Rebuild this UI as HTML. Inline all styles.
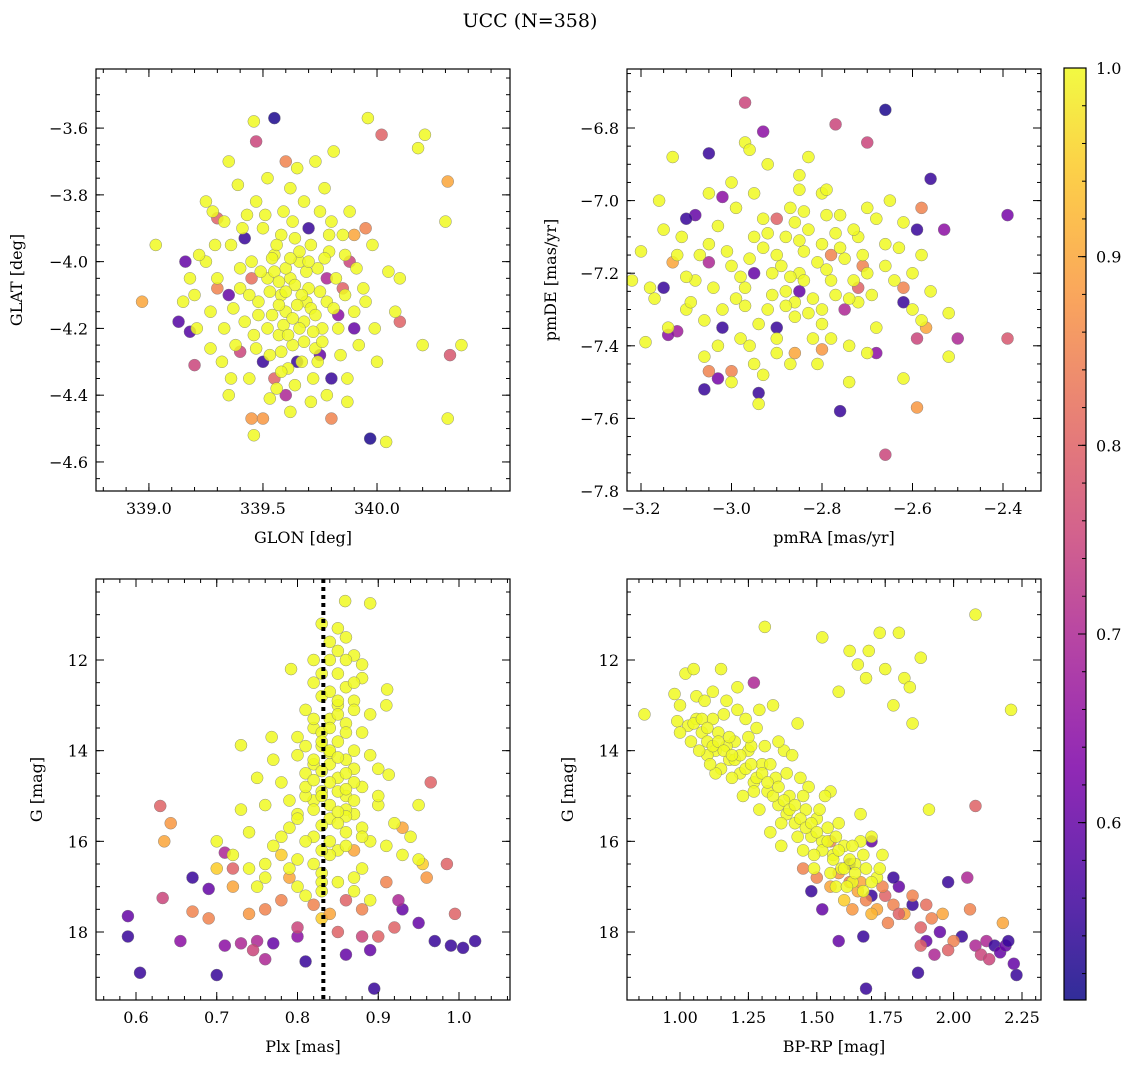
<!DOCTYPE html>
<html><head><meta charset="utf-8"><style>
body{margin:0;background:#fff;}
svg{display:block;font-family:"DejaVu Serif","Liberation Serif",serif;}
</style></head><body>
<svg id="fig" width="1136" height="1068" viewBox="0 0 1136 1068" xmlns="http://www.w3.org/2000/svg">
<text x="530" y="27" font-size="19" text-anchor="middle">UCC (N=358)</text>
</svg>
<script>
// ---- Panel 1: GLON / GLAT ----
const glonYellow=[339.62,339.58,339.66,339.70,339.55,339.60,339.68,339.52,339.74,339.64,339.48,339.78,339.57,339.71,339.45,339.82,339.63,339.50,339.76,339.40,339.86,339.59,339.67,339.53,339.80,339.42,339.36,339.90,339.72,339.47,339.62,339.30,339.94,339.56,339.84,339.33,339.25,339.98,339.38,339.65,339.75,339.27,339.88,339.44,339.92,339.20,339.22,340.05,339.28,339.52,339.78,339.35,339.18,340.08,339.62,339.58,339.69,339.54,339.73,339.46,339.61,339.79,339.41,339.87,339.32,339.99,339.15,339.25,339.73,339.46,339.96,339.46,340.21,340.18,339.81,339.03,339.27,339.36,340.04,340.31,340.37,340.30,340.20,340.10];
const glatYellow=[-4.05,-4.10,-4.00,-4.08,-3.98,-4.15,-4.18,-4.05,-4.02,-3.93,-4.12,-4.12,-4.22,-3.95,-4.00,-4.05,-4.25,-3.90,-4.20,-4.08,-3.98,-3.85,-4.30,-4.28,-3.88,-4.18,-3.95,-4.15,-4.35,-3.82,-3.78,-4.05,-4.08,-4.38,-4.28,-3.88,-4.00,-3.95,-4.25,-3.72,-3.85,-4.15,-3.85,-4.35,-4.25,-4.10,-3.98,-4.03,-3.85,-3.75,-4.40,-4.40,-4.05,-4.15,-4.45,-3.92,-4.12,-4.16,-4.26,-4.22,-4.32,-3.97,-3.90,-4.35,-4.30,-4.20,-4.12,-3.82,-3.70,-4.52,-3.57,-3.58,-3.62,-3.66,-3.67,-3.95,-4.26,-4.35,-4.54,-4.47,-4.25,-3.88,-4.25,-4.05];
const glonCore=[339.60,339.64,339.57,339.67,339.71,339.53,339.59,339.63,339.69,339.75,339.49,339.56,339.66,339.72,339.61,339.52,339.77,339.81,339.44,339.58,339.68,339.74,339.51,339.63,339.83,339.40,339.47,339.86,339.79,339.55,339.65,339.60,339.70,339.57,339.73,339.66,339.54,339.62,339.48,339.76,339.68,339.37,339.91,339.58,339.64,339.43,339.85,339.33,339.95,339.29,339.53,339.71,339.39,339.87,339.21,340.00,339.35,339.77];
const glatCore=[-4.02,-4.07,-4.13,-4.10,-4.14,-4.09,-4.19,-4.17,-4.03,-4.09,-4.03,-3.95,-3.97,-4.21,-4.22,-4.20,-3.99,-4.14,-4.10,-4.27,-4.24,-4.30,-3.86,-3.88,-4.20,-4.02,-4.26,-4.10,-3.92,-4.03,-4.13,-4.09,-4.00,-4.06,-4.16,-4.20,-3.99,-3.99,-4.16,-4.24,-3.82,-4.14,-4.02,-4.33,-4.37,-3.86,-3.92,-4.20,-4.12,-3.95,-4.41,-4.42,-3.77,-4.42,-4.20,-4.30,-3.70,-3.78];
const glonMixed=[339.55,340.02,339.47,338.97,339.16,339.13,339.18,339.20,339.45,339.50,339.97,339.80,340.32,340.31,339.35,339.40,339.65,339.80,339.75,339.90,339.50,339.60,339.85,339.70,339.42,339.30,339.95,339.88,339.55,339.78,339.30,339.90,339.60,339.83,339.45,340.10];
const glatMixed=[-3.57,-3.62,-3.64,-4.12,-4.00,-4.18,-4.21,-4.31,-4.47,-4.47,-4.53,-4.47,-4.28,-3.76,-4.10,-4.27,-4.30,-4.35,-4.28,-4.20,-4.30,-4.40,-4.08,-3.90,-3.93,-4.08,-3.90,-4.00,-4.35,-4.05,-3.87,-3.92,-3.70,-4.16,-4.05,-4.18];
const probMixed1=[0.52,0.8,0.75,0.9,0.6,0.58,0.58,0.75,0.88,0.88,0.52,0.85,0.78,0.9,0.6,0.75,0.55,0.55,0.6,0.6,0.55,0.7,0.8,0.55,0.55,0.85,0.85,0.75,0.8,0.7,0.8,0.9,0.85,0.65,0.82,0.8];

// ---- Panel 2: pmRA / pmDE ----
const pmraYellow=[-2.95,-2.90,-2.85,-2.80,-2.88,-2.92,-2.78,-2.83,-3.00,-2.75,-2.97,-2.86,-2.70,-3.05,-2.82,-2.93,-2.72,-3.02,-2.87,-2.76,-3.08,-2.98,-2.66,-2.90,-2.80,-3.12,-2.68,-3.00,-2.85,-2.74,-3.10,-2.95,-2.62,-3.15,-2.80,-3.05,-2.64,-2.92,-3.18,-2.60,-3.13,-3.22,-3.19,-2.83,-2.79,-2.97,-2.96,-2.65,-2.68,-2.52,-2.52,-2.58,-3.09,-3.06,-2.94,-2.96,-2.74,-2.62,-3.20,-3.00,-2.88,-2.84,-2.86,-2.77,-3.03,-2.91,-2.99,-2.72,-2.70,-2.58,-2.56,-3.14,-3.16,-2.81];
const pmdeYellow=[-7.10,-7.15,-7.20,-7.12,-7.25,-7.30,-7.22,-7.08,-7.18,-7.16,-7.24,-7.32,-7.20,-7.12,-7.38,-7.05,-7.28,-7.30,-7.02,-7.04,-7.22,-7.38,-7.12,-7.42,-7.30,-7.15,-7.35,-6.95,-6.93,-7.40,-7.30,-7.45,-7.06,-7.08,-6.98,-6.98,-7.22,-6.90,-7.24,-7.30,-6.88,-7.22,-7.39,-6.88,-6.97,-6.84,-6.86,-7.00,-7.05,-7.43,-7.31,-7.33,-7.28,-7.43,-7.56,-7.40,-7.50,-7.49,-7.14,-7.50,-7.10,-7.14,-7.28,-7.26,-7.07,-7.20,-7.27,-7.10,-7.02,-7.15,-7.25,-7.35,-7.00,-7.45];
const pmraCore=[-2.89,-2.84,-2.81,-2.93,-2.87,-2.79,-2.96,-2.82,-2.91,-2.76,-2.85,-2.98,-2.73,-2.88,-2.94,-2.80,-3.01,-2.77,-2.86,-2.92,-2.71,-2.83,-2.97,-2.74,-3.04,-2.90,-2.78,-3.07,-2.69,-2.84,-2.99,-2.73,-3.10,-2.66,-2.95,-3.06,-2.87,-2.79,-3.11,-2.63,-2.93,-2.70,-3.17,-2.60,-3.03,-2.85];
const pmdeCore=[-7.18,-7.22,-7.17,-7.13,-7.21,-7.19,-7.16,-7.27,-7.26,-7.13,-7.11,-7.21,-7.22,-7.29,-7.34,-7.34,-7.14,-7.09,-7.06,-7.09,-7.15,-7.31,-7.29,-7.27,-7.24,-7.38,-7.38,-7.15,-7.26,-7.03,-7.02,-7.08,-7.21,-7.18,-6.98,-7.33,-7.45,-7.04,-7.10,-7.13,-7.48,-7.42,-7.27,-7.20,-7.40,-6.97];
const pmraMixed=[-2.97,-2.66,-3.05,-2.93,-2.77,-2.70,-2.56,-2.39,-2.39,-3.15,-3.12,-3.14,-3.06,-3.03,-2.94,-2.76,-2.66,-2.59,-2.59,-2.59,-2.57,-2.62,-2.68,-2.80,-2.86,-2.90,-3.02,-3.05,-3.08,-3.10,-3.05,-3.00,-2.58,-2.62,-2.53,-2.50,-2.72,-2.85,-2.78,-2.90,-3.13,-2.75,-2.95,-3.02,-2.71];
const pmdeMixed=[-6.73,-6.75,-6.87,-6.81,-6.79,-6.84,-6.94,-7.04,-7.38,-7.24,-7.36,-7.37,-7.52,-7.49,-7.53,-7.58,-7.70,-7.57,-7.08,-7.38,-7.35,-7.28,-7.42,-7.41,-7.42,-7.35,-7.35,-7.17,-7.04,-7.05,-7.47,-7.47,-7.02,-7.24,-7.08,-7.38,-7.24,-7.25,-7.15,-7.05,-7.17,-7.30,-7.20,-6.99,-7.18];
const probMixed2=[0.75,0.52,0.55,0.65,0.75,0.75,0.55,0.62,0.78,0.55,0.68,0.65,0.55,0.62,0.55,0.55,0.75,0.88,0.55,0.75,0.9,0.55,0.65,0.88,0.9,0.55,0.55,0.7,0.6,0.55,0.85,0.85,0.85,0.85,0.65,0.7,0.8,0.6,0.85,0.8,0.9,0.7,0.6,0.65,0.85];

// ---- Panel 3: Plx / G ----
const plxYellow=[0.859,0.89,0.83,0.86,0.85,0.87,0.84,0.88,0.792,0.85,0.82,0.86,0.911,0.83,0.87,0.85,0.81,0.89,0.84,0.86,0.82,0.768,0.73,0.88,0.85,0.83,0.87,0.80,0.86,0.84,0.90,0.913,0.81,0.85,0.78,0.88,0.83,0.86,0.82,0.76,0.90,0.80,0.87,0.84,0.92,0.79,0.86,0.74,0.82,0.89,0.77,0.85,0.93,0.80,0.72,0.88,0.83,0.76,0.95,0.70,0.84,0.85,0.83,0.87,0.81,0.86,0.84,0.79,0.88,0.82,0.75,0.91,0.83,0.87,0.81,0.75,0.95,0.73];
const gPlxYellow=[10.7,10.75,11.2,11.5,11.8,11.9,12.0,12.1,12.2,12.3,12.5,12.6,12.65,12.8,12.9,13.0,13.1,13.2,13.3,13.4,13.5,13.7,13.88,13.6,13.8,13.9,14.0,14.1,14.2,14.3,14.4,14.53,14.5,14.6,14.7,14.8,14.9,15.0,15.1,15.2,15.2,15.4,15.4,15.5,15.6,15.7,15.8,15.8,15.9,16.0,16.1,16.2,16.3,16.4,16.3,16.6,16.7,16.8,16.4,16.0,14.05,12.9,13.6,14.7,15.0,15.3,16.0,15.1,15.7,14.3,14.6,13.0,16.9,17.1,17.2,17.0,15.2,15.3];
const plxCore=[0.83,0.84,0.85,0.82,0.86,0.83,0.84,0.85,0.82,0.87,0.83,0.86,0.84,0.81,0.85,0.83,0.87,0.84,0.82,0.86,0.80,0.85,0.83,0.88,0.81,0.86,0.84,0.82,0.79,0.87,0.85,0.80,0.83,0.89,0.78,0.77,0.89,0.90,0.80,0.87,0.88,0.84,0.85,0.86,0.82,0.84,0.86,0.82,0.85,0.83,0.76,0.91,0.74,0.94,0.81,0.87];
const gPlxCore=[12.3,12.7,13.2,13.3,13.6,13.8,14.0,14.15,14.2,14.4,14.45,14.5,14.7,14.8,14.9,15.0,15.1,15.2,15.3,15.45,15.5,15.6,15.65,15.9,16.0,16.1,16.3,16.5,16.6,16.8,16.9,17.0,17.1,17.3,15.9,14.2,14.1,15.0,13.7,13.1,12.4,11.6,11.3,12.0,12.0,13.5,14.85,14.65,15.35,16.2,16.5,16.1,16.6,15.9,13.9,12.5];
const plxMixed=[0.59,0.59,0.605,0.70,0.895,0.63,0.643,0.635,0.633,0.655,0.67,0.67,0.69,0.71,0.73,0.75,0.76,0.77,0.80,0.81,0.83,0.85,0.86,0.88,0.89,0.90,0.92,0.93,0.95,0.97,0.99,1.005,1.02,0.995,0.985,0.965,0.96,0.955,0.93,0.71,0.72,0.74,0.78,0.79,0.82,0.84,0.86,0.88,0.80,0.76,0.745,0.72,0.70,0.69,0.925,0.91,0.87,0.78];
const gPlxMixed=[17.65,18.1,18.9,18.95,19.25,15.22,15.6,16.0,17.25,18.2,17.55,16.8,17.05,18.3,18.25,18.2,18.6,18.25,18.1,18.65,17.7,18.0,18.5,18.1,18.4,18.1,17.9,17.5,17.8,18.2,18.3,18.35,18.2,17.6,16.5,14.7,16.8,16.5,15.7,16.25,16.6,17.6,17.3,16.8,17.4,17.6,17.3,17.5,17.9,17.5,18.4,17.0,16.6,17.7,17.3,16.9,16.2,16.3];
const probMixed3=[0.6,0.55,0.55,0.55,0.55,0.8,0.88,0.9,0.75,0.65,0.85,0.55,0.6,0.65,0.7,0.7,0.7,0.6,0.65,0.55,0.95,0.8,0.6,0.75,0.6,0.8,0.8,0.6,0.6,0.55,0.55,0.55,0.55,0.8,0.8,0.8,0.88,0.95,0.9,0.7,0.8,0.88,0.85,0.9,0.85,0.9,0.8,0.85,0.75,0.85,0.75,0.9,0.95,0.85,0.7,0.85,0.9,0.95];
const plxLine=0.832;

// ---- Panel 4: BP-RP / G ----
const bprpYellow=[0.87,0.98,1.00,1.02,1.05,0.99,1.03,1.06,1.08,1.10,1.12,1.13,1.15,1.16,1.18,1.20,1.22,1.24,1.25,1.27,1.28,1.30,1.31,1.32,1.34,1.35,1.36,1.38,1.40,1.42,1.44,1.46,1.48,1.50,1.52,1.52,1.54,1.56,1.58,1.60,1.62,1.64,1.65,1.68,1.70,1.72,1.73,1.75,1.78,1.80,1.82,1.85,1.91,2.08,2.21,1.10,1.14,1.19,1.23,1.29,1.33,1.37,1.41,1.45,1.49,1.55,1.57,1.63,1.66,1.06,1.12,1.17,1.21,1.26,1.39,1.47,1.53,1.59,1.67,1.74,1.69,1.58,1.88,1.84,1.07,1.15,1.36,1.43];
const gColYellow=[13.2,12.75,13.0,12.3,12.2,13.35,13.45,13.3,13.6,13.8,12.7,14.0,12.2,13.2,14.2,13.8,14.5,13.3,14.0,14.7,13.5,14.3,11.27,14.9,13.0,14.6,15.2,14.0,15.0,15.6,14.6,15.3,15.9,15.5,11.5,16.0,15.7,16.3,15.6,16.1,11.8,16.5,12.1,12.4,15.9,16.8,11.4,12.2,13.0,11.4,12.4,13.4,15.3,11.0,13.1,14.1,13.6,14.6,15.0,15.3,15.8,16.1,14.1,16.2,16.6,14.9,17.0,16.9,15.4,12.8,13.3,13.9,13.1,13.9,15.4,14.8,15.0,16.6,16.3,16.3,11.8,12.7,11.95,12.6,14.0,14.4,13.8,13.4];
const bprpCore=[1.05,1.08,1.10,1.12,1.14,1.16,1.18,1.20,1.22,1.24,1.26,1.28,1.30,1.32,1.34,1.36,1.38,1.40,1.42,1.44,1.46,1.48,1.50,1.52,1.54,1.56,1.58,1.60,1.62,1.64,1.66,1.68,1.70,1.13,1.19,1.27,1.33,1.39,1.45,1.51,1.57,1.63,1.09,1.04,1.17,1.25,1.31,1.37,1.43,1.49,1.55,1.61,1.67,1.73,1.21,1.29,1.00,1.11];
const gColCore=[13.4,13.3,13.5,13.9,13.8,14.0,13.7,14.2,14.1,14.4,14.3,14.6,14.5,14.7,15.0,14.8,15.1,15.3,15.2,15.5,15.7,15.6,15.8,16.2,16.0,16.4,16.2,16.6,16.4,16.7,16.0,16.6,16.9,14.5,14.1,14.9,14.3,14.5,15.0,15.3,15.9,16.1,12.9,13.8,12.9,13.7,13.9,15.6,15.9,16.3,16.7,17.0,17.1,16.6,12.6,13.1,13.6,14.3];
const bprpMixed=[1.27,1.58,1.68,1.87,1.67,2.08,1.70,1.80,1.85,1.90,1.95,1.98,2.03,2.05,2.08,2.10,2.12,2.15,2.17,2.19,2.20,2.22,2.23,2.18,2.13,2.00,1.96,1.92,1.88,1.85,1.82,1.78,1.75,1.72,1.68,1.65,1.62,1.60,1.55,1.52,1.48,1.50,1.45,1.88,1.93,1.98,2.06,1.62,1.70,1.78,1.55,1.58,1.66,1.74,1.80,1.90,1.70,1.63,1.76];
const gColMixed=[12.5,18.2,19.25,18.9,18.1,15.22,17.2,17.0,17.4,18.2,18.0,16.9,18.1,16.8,18.3,18.5,18.2,18.3,18.45,18.3,18.2,18.7,18.95,17.8,18.6,18.2,17.6,17.7,17.9,17.2,17.6,17.4,17.2,17.5,17.3,17.1,16.9,17.3,17.0,17.5,17.1,16.8,16.6,18.3,18.5,18.4,17.5,16.5,16.0,16.8,16.0,16.7,16.9,17.0,17.6,17.4,17.6,17.5,17.8];
const probMixed4=[0.7,0.6,0.55,0.55,0.55,0.8,0.55,0.6,0.55,0.6,0.6,0.55,0.55,0.7,0.7,0.75,0.7,0.55,0.6,0.6,0.55,0.6,0.55,0.9,0.75,0.85,0.9,0.85,0.8,0.85,0.9,0.85,0.8,0.9,0.85,0.9,0.85,0.95,0.9,0.6,0.55,0.85,0.85,0.8,0.7,0.8,0.85,0.55,0.6,0.55,0.85,0.88,0.9,0.85,0.8,0.82,0.92,0.88,0.85];

const cbMin=0.506, cbMax=1.0;
const cbTicks=[0.6,0.7,0.8,0.9,1.0];

const NS="http://www.w3.org/2000/svg";
const svg=document.getElementById('fig');
function el(tag,attrs,parent){const e=document.createElementNS(NS,tag);for(const k in attrs)e.setAttribute(k,attrs[k]);(parent||svg).appendChild(e);return e;}
const stops=[[0,[13,8,135]],[0.13,[75,3,161]],[0.25,[125,3,168]],[0.38,[168,34,150]],[0.5,[203,70,121]],[0.63,[229,107,93]],[0.75,[248,148,65]],[0.88,[253,195,40]],[1,[240,249,33]]];
function plasma(t){t=Math.max(0,Math.min(1,t));for(let i=1;i<stops.length;i++){if(t<=stops[i][0]){const a=stops[i-1],b=stops[i];const f=(t-a[0])/(b[0]-a[0]);const c=a[1].map((v,j)=>Math.round(v+(b[1][j]-v)*f));return `rgb(${c[0]},${c[1]},${c[2]})`;}}return 'rgb(240,249,33)';}
function colorOf(p){return plasma((p-cbMin)/(cbMax-cbMin));}
function fmt(v,d){const s=Math.abs(v).toFixed(d);return (v<0?'\u2212':'')+s;}

function panel(cfg){
  const {name,x0,x1,y0,y1,xmin,xmax,ymin,ymax,xMin,yMin,xd,yd,xlabel,ylabel,invertY}=cfg;
  const sx=v=>x0+(v-xmin)/(xmax-xmin)*(x1-x0);
  const sy=invertY?(v=>y0+(v-ymin)/(ymax-ymin)*(y1-y0)):(v=>y1-(v-ymin)/(ymax-ymin)*(y1-y0));
  const g=el('g',{});
  
  
  const clip=el('clipPath',{id:name+'-clip'},g);el('rect',{x:x0,y:y0,width:x1-x0,height:y1-y0},clip);
  const pts=el('g',{'clip-path':`url(#${name}-clip)`},g);
  
  
  cfg.series.forEach(s=>{
    for(let i=0;i<s.x.length;i++){
      const p=s.p?s.p[i]:1.0;
      const c=el('circle',{cx:sx(s.x[i]),cy:sy(s.y[i]),r:6,fill:colorOf(p),'fill-opacity':0.85,stroke:'#777','stroke-width':0.5,'stroke-opacity':0.8},pts);
      
      
    }
  });
  if(cfg.vline!==undefined){
    const l=el('line',{x1:sx(cfg.vline),x2:sx(cfg.vline),y1:y0,y2:y1,stroke:'#000','stroke-width':4,'stroke-dasharray':'4,4'},g);
    
    
  }
  el('rect',{x:x0,y:y0,width:x1-x0,height:y1-y0,fill:'none',stroke:'#000','stroke-width':1.2},g);
  const eps=1e-6;
  for(let v=Math.ceil(xmin/xMin-eps)*xMin;v<=xmax+eps;v+=xMin){const X=sx(v);el('line',{x1:X,x2:X,y1:y1,y2:y1-4,stroke:'#000'},g);el('line',{x1:X,x2:X,y1:y0,y2:y0+4,stroke:'#000'},g);}
  for(let v=Math.ceil(ymin/yMin-eps)*yMin;v<=ymax+eps;v+=yMin){const Y=sy(v);el('line',{x1:x0,x2:x0+4,y1:Y,y2:Y,stroke:'#000'},g);el('line',{x1:x1,x2:x1-4,y1:Y,y2:Y,stroke:'#000'},g);}
  cfg.xticks.forEach(v=>{const X=sx(v);el('line',{x1:X,x2:X,y1:y1,y2:y1-8,stroke:'#000'},g);el('line',{x1:X,x2:X,y1:y0,y2:y0+8,stroke:'#000'},g);
    const t=el('text',{x:X,y:y1+23,'font-size':16,'text-anchor':'middle'},g);t.textContent=fmt(v,xd);
    });
  cfg.yticks.forEach(v=>{const Y=sy(v);el('line',{x1:x0,x2:x0+8,y1:Y,y2:Y,stroke:'#000'},g);el('line',{x1:x1,x2:x1-8,y1:Y,y2:Y,stroke:'#000'},g);
    const t=el('text',{x:x0-8,y:Y+6,'font-size':16,'text-anchor':'end'},g);t.textContent=fmt(v,yd);
    });
  const xl=el('text',{x:(x0+x1)/2,y:y1+52,'font-size':16,'text-anchor':'middle'},g);xl.textContent=xlabel;
  
  const yx=cfg.ylx, yy=(y0+y1)/2;
  const yl=el('text',{x:yx,y:yy,'font-size':16,'text-anchor':'middle',transform:`rotate(-90 ${yx} ${yy})`},g);yl.textContent=ylabel;
  
}
function range(a,b,s){const r=[];for(let v=a;v<=b+1e-9;v+=s)r.push(Math.round(v*1000)/1000);return r;}

panel({name:'glon-glat',x0:96,x1:510,y0:69,y1:491,xmin:338.768,xmax:340.583,ymin:-4.687,ymax:-3.423,xMin:0.1,yMin:0.05,xd:1,yd:1,
  xticks:[339.0,339.5,340.0],yticks:range(-4.6,-3.6,0.2),xlabel:'GLON [deg]',ylabel:'GLAT [deg]',ylx:22,
  series:[{x:glonMixed,y:glatMixed,p:probMixed1},{x:glonYellow,y:glatYellow},{x:glonCore,y:glatCore}]});
panel({name:'pmra-pmde',x0:627,x1:1041,y0:69,y1:491,xmin:-3.2-14/452.5,xmax:-2.4+38/452.5,ymin:-7.8,ymax:-6.8+59/363,xMin:0.05,yMin:0.05,xd:1,yd:1,
  xticks:range(-3.2,-2.4,0.2),yticks:range(-7.8,-6.8,0.2),xlabel:'pmRA [mas/yr]',ylabel:'pmDE [mas/yr]',ylx:556,
  series:[{x:pmraMixed,y:pmdeMixed,p:probMixed2},{x:pmraYellow,y:pmdeYellow},{x:pmraCore,y:pmdeCore}]});
panel({name:'plx-g',x0:96,x1:510,y0:579,y1:1000,xmin:0.6-40/807.5,xmax:1.0+51/807.5,ymin:12-81/45.33,ymax:18+68/45.33,invertY:true,xMin:0.02,yMin:0.5,xd:1,yd:0,
  xticks:range(0.6,1.0,0.1),yticks:[12,14,16,18],xlabel:'Plx [mas]',ylabel:'G [mag]',ylx:42,vline:plxLine,
  series:[{x:plxMixed,y:gPlxMixed,p:probMixed3},{x:plxYellow,y:gPlxYellow},{x:plxCore,y:gPlxCore}]});
panel({name:'bprp-g',x0:627,x1:1041,y0:579,y1:1000,xmin:1.0-53/273.6,xmax:2.25+19/273.6,ymin:12-81/45.33,ymax:18+68/45.33,invertY:true,xMin:0.05,yMin:0.5,xd:2,yd:0,
  xticks:range(1.0,2.25,0.25),yticks:[12,14,16,18],xlabel:'BP-RP [mag]',ylabel:'G [mag]',ylx:573,
  series:[{x:bprpMixed,y:gColMixed,p:probMixed4},{x:bprpYellow,y:gColYellow},{x:bprpCore,y:gColCore}]});

// colorbar
(function(){
  const x0=1064,x1=1086,y0=68,y1=1000;
  const g=el('g',{});
  
  
  const defs=el('defs',{},g);const lg=el('linearGradient',{id:'cbg',x1:0,y1:1,x2:0,y2:0},defs);
  for(let i=0;i<=20;i++){el('stop',{offset:i/20,'stop-color':plasma(i/20),'stop-opacity':0.85},lg);}
  el('rect',{x:x0,y:y0,width:x1-x0,height:y1-y0,fill:'url(#cbg)',stroke:'#000','stroke-width':1.2},g);
  const sy=v=>y1-(v-cbMin)/(cbMax-cbMin)*(y1-y0);
  for(let v=0.52;v<=1.0001;v+=0.02){el('line',{x1:x1,x2:x1-4,y1:sy(v),y2:sy(v),stroke:'#000'},g);}
  cbTicks.forEach(v=>{const Y=sy(v);el('line',{x1:x1,x2:x1-8,y1:Y,y2:Y,stroke:'#000'},g);
    const t=el('text',{x:x1+10,y:Y+6,'font-size':16},g);t.textContent=v.toFixed(1);
    });
})();
</script>
</body></html>
